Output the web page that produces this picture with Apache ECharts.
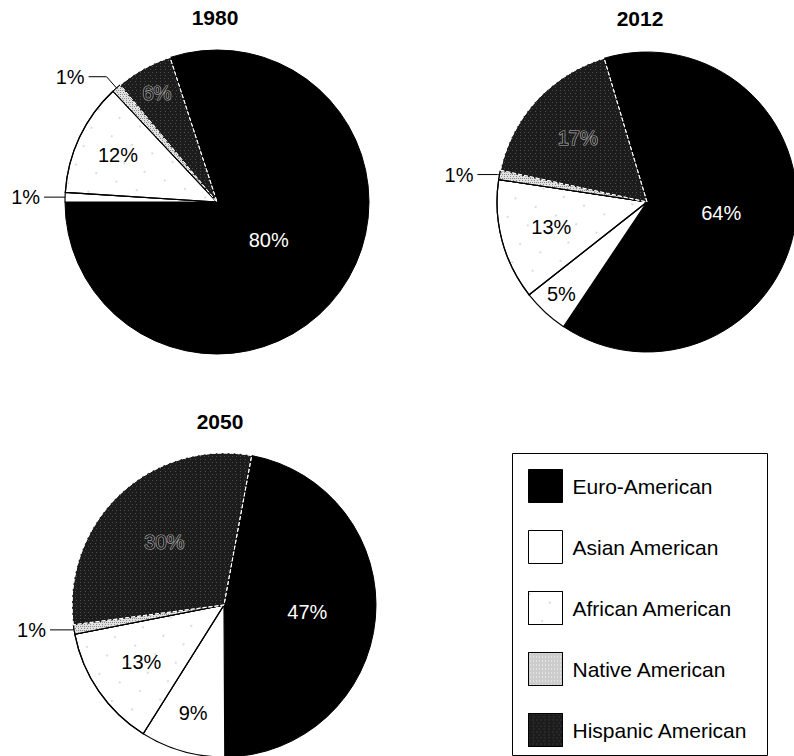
<!DOCTYPE html>
<html><head><meta charset="utf-8">
<script src="https://cdn.jsdelivr.net/npm/echarts@6/dist/echarts.min.js"></script>
<style>html,body{margin:0;padding:0;background:#fff}#c{width:794px;height:756px}</style>
</head><body><div id="c"></div>
<script>
// ---- data ----
const categories = ['Euro-American', 'Asian American', 'African American', 'Native American', 'Hispanic American'];
const years = ['1980', '2012', '2050'];
const values1980 = [80, 1, 12, 1, 6];
const values2012 = [64, 5, 13, 1, 17];
const values2050 = [47, 9, 13, 1, 30];
const seriesValues = [values1980, values2012, values2050];

// ---- layout / style ----
const FONT = "'Liberation Sans', Arial, Helvetica, sans-serif";
const pieLayout = [
  { center: [217, 202], r: 152, start: 108, title: [215, 7] },
  { center: [647, 202], r: 150, start: 106.6, title: [640, 8] },
  { center: [224, 605], r: 152, start: 79.5, title: [220, 411] }
];
// inside label distance as fraction of radius; null = outside label with leader line
const labelRadius = [
  [0.42, null, 0.72, null, 0.82],
  [0.5, 0.84, 0.66, null, 0.63],
  [0.55, 0.74, 0.66, null, 0.57]
];
const leader = [
  [null, [3, 18], null, [15, 18], null],
  [null, null, null, [2, 20], null],
  [null, null, null, [2, 22], null]
];
const sliceStyles = [
  { color: '#000000', borderColor: '#000', borderWidth: 1 },
  { color: '#ffffff', borderColor: '#000', borderWidth: 1.2 },
  { color: '#ffffff', borderColor: '#000', borderWidth: 1.2,
    decal: { symbol: 'rect', symbolSize: 0.3, color: '#8a8a8a', dashArrayX: [[4, 18]], dashArrayY: [4, 16], rotation: 0.4 } },
  { color: '#e2e2e2', borderColor: '#000', borderWidth: 1,
    decal: { symbol: 'rect', symbolSize: 1, color: '#8a8a8a', dashArrayX: [[1, 1], [1, 2]], dashArrayY: [1, 1] } },
  { color: '#1c1c1c', borderColor: '#ffffff', borderWidth: 1, borderType: 'dashed',
    decal: { symbol: 'rect', symbolSize: 1, color: 'rgba(255,255,255,0.22)', dashArrayX: [[1, 4], [1, 3]], dashArrayY: [1, 2] } }
];
const labelColors = ['#ffffff', '#000000', '#000000', '#000000', '#1c1c1c'];

function sum(a) { return a.reduce((s, v) => s + v, 0); }

const chart = echarts.init(document.getElementById('c'), null, { renderer: 'svg' });

const option = {
  animation: false,
  backgroundColor: '#ffffff',
  title: years.map((y, si) => ({
    text: y, left: pieLayout[si].title[0], top: pieLayout[si].title[1], textAlign: 'center', padding: 0,
    textStyle: { fontSize: 21, fontWeight: 'bold', color: '#000', fontFamily: FONT }
  })),
  legend: {
    data: categories, orient: 'vertical', left: 528, top: 469, padding: 0,
    itemWidth: 34, itemHeight: 33, itemGap: 27, selectedMode: false, icon: 'rect',
    itemStyle: { borderColor: '#000', borderWidth: 1 },
    textStyle: { fontSize: 21, color: '#000', fontFamily: FONT, padding: [0, 0, 0, 5] }
  },
  graphic: [{
    type: 'rect', shape: { x: 512.5, y: 453.5, width: 255, height: 302 },
    style: { fill: 'none', stroke: '#000', lineWidth: 1 }, silent: true
  }],
  series: seriesValues.map((vals, si) => ({
    type: 'pie',
    name: years[si],
    center: pieLayout[si].center,
    radius: pieLayout[si].r,
    startAngle: pieLayout[si].start,
    clockwise: true,
    avoidLabelOverlap: false,
    silent: true,
    label: { formatter: '{c}%', fontSize: 20, fontFamily: FONT },
    data: vals.map((v, i) => {
      const inside = labelRadius[si][i] != null;
      const ld = leader[si][i];
      return {
        name: categories[i], value: v,
        itemStyle: sliceStyles[i],
        label: inside
          ? { position: 'inside', color: labelColors[i],
              textBorderColor: i === 4 ? '#b4b4b4' : 'transparent', textBorderWidth: i === 4 ? 1.2 : 0 }
          : { position: 'outside', color: '#000', distanceToLabelLine: 4 },
        labelLine: ld ? { show: true, length: ld[0], length2: ld[1], smooth: false, lineStyle: { color: '#000', width: 1 } } : { show: false }
      };
    }),
    labelLayout: function (p) {
      const s = p.seriesIndex, i = p.dataIndex;
      const f = labelRadius[s][i];
      if (f == null) return {};
      const vs = seriesValues[s];
      const tot = sum(vs);
      let cum = 0;
      for (let j = 0; j < i; j++) cum += vs[j];
      const L = pieLayout[s];
      const a = (L.start - (cum + vs[i] / 2) / tot * 360) * Math.PI / 180;
      return { x: L.center[0] + Math.cos(a) * f * L.r, y: L.center[1] - Math.sin(a) * f * L.r, align: 'center', verticalAlign: 'middle' };
    }
  }))
};
chart.setOption(option);
</script>
</body></html>
